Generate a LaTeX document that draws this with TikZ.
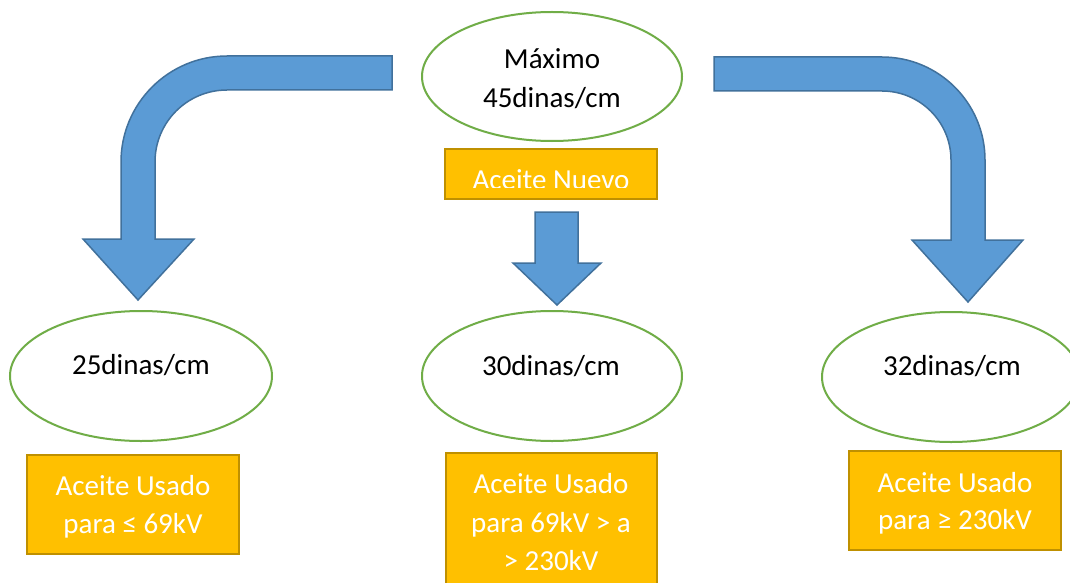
\documentclass[tikz,border=0pt]{standalone}
\usepackage{fontspec}
\setmainfont{Carlito}
\usetikzlibrary{shapes.geometric}
\definecolor{arrfill}{HTML}{5B9BD5}
\definecolor{arrline}{HTML}{41719C}
\definecolor{ellline}{HTML}{70AD47}
\definecolor{boxfill}{HTML}{FFC000}
\definecolor{boxline}{HTML}{BF9000}
\tikzset{
  blockarrow/.style={fill=arrfill, draw=arrline, line width=1.5pt, line join=miter},
  ell/.style={ellipse, draw=ellline, fill=white, line width=2pt, inner sep=0pt},
  boxsty/.style={fill=boxfill, draw=boxline, line width=2pt},
  dark/.style={text=black, font=\fontsize{29}{38}\selectfont, anchor=base, inner sep=0pt},
  light/.style={text=white, font=\fontsize{29}{38}\selectfont, anchor=base, inner sep=0pt}
}
\begin{document}
\begin{tikzpicture}[x=1pt, y=-1pt]
\useasboundingbox (0,0) rectangle (1070,583);
\fill[white] (0,0) rectangle (1070,583);
\clip (0,0) rectangle (1070,583);

% bent arrows
\draw[blockarrow] (392,56) -- (227,56) .. controls (168.5,56) and (121,103.5) .. (121,162)
  -- (121,239) -- (83,239) -- (138,300) -- (194,239) -- (155,239) -- (155,162)
  .. controls (155,122.2) and (187.2,90) .. (227,90) -- (392,90) -- cycle;
\draw[blockarrow] (714,57) -- (882,57) .. controls (938.9,57) and (985,103.1) .. (985,160)
  -- (985,240) -- (1023,240) -- (968,302) -- (912,240) -- (951,240) -- (951,160)
  .. controls (951,121.9) and (920.1,91) .. (882,91) -- (714,91) -- cycle;
\draw[blockarrow] (535,212) -- (578,212) -- (578,263) -- (601,263) -- (557,305)
  -- (513,263) -- (535,263) -- cycle;

% top ellipse
\node[ell, minimum width=260pt, minimum height=129pt] (top) at (552,76.5) {};
\node[dark] (topa) at (552,69) {Máximo};
\node[dark] (topb) at (552,108) {45dinas/cm};

% Aceite Nuevo box (text cut off at the bottom)
\draw[boxsty] (445,149) rectangle (657,199);
\begin{scope}
\clip (445,149) rectangle (657,187.5);
\node[light] (nuevo) at (551,189) {Aceite Nuevo};
\end{scope}

% bottom ellipses
\node[ell, minimum width=262pt, minimum height=130pt] (e1) at (141,376) {};
\node[dark] (t1) at (141,374) {25dinas/cm};
\node[ell, minimum width=260pt, minimum height=130pt] (e2) at (552,376) {};
\node[dark] (t2) at (551,375) {30dinas/cm};
\node[ell, minimum width=258pt, minimum height=130pt] (e3) at (951,377) {};
\node[dark] (t3) at (952,375) {32dinas/cm};

% bottom boxes
\draw[boxsty] (27,455) rectangle (239,554);
\node[light] (b1a) at (133,495) {Aceite Usado};
\node[light] (b1b) at (133,533) {para ≤ 69kV};

\draw[boxsty] (446,453) rectangle (657,600);
\node[light] (b2a) at (551,493) {Aceite Usado};
\node[light] (b2b) at (551,532) {para 69kV > a};
\node[light] (b2c) at (551,570) {> 230kV};

\draw[boxsty] (849,451) rectangle (1061,550);
\node[light] (b3a) at (955,492) {Aceite Usado};
\node[light] (b3b) at (955,529) {para ≥ 230kV};
\end{tikzpicture}
\end{document}
